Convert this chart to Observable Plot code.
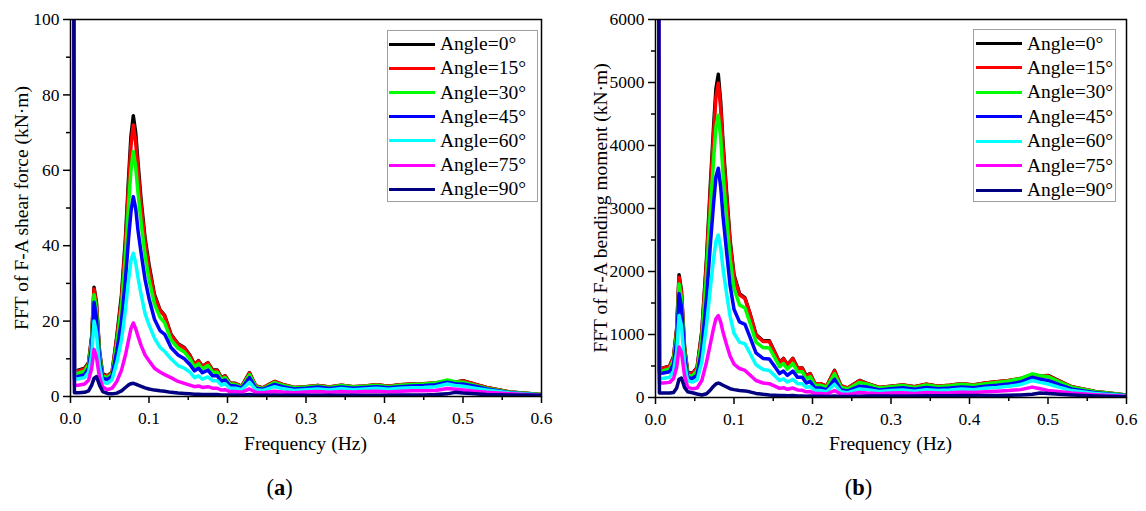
<!DOCTYPE html>
<html><head><meta charset="utf-8">
<script src="https://cdn.jsdelivr.net/npm/d3@7"></script>
<script src="https://cdn.jsdelivr.net/npm/@observablehq/plot@0.6"></script>
<style>
body{margin:0;background:#fff;}
#root{position:relative;width:1146px;height:511px;background:#fff;font-family:"Liberation Serif","Times New Roman",serif;color:#000;overflow:hidden}
#root svg{position:absolute;top:0}
.ytitle{position:absolute;white-space:nowrap;font-size:19.5px;line-height:1;transform:translate(-50%,-50%) rotate(-90deg)}
.xtitle{position:absolute;white-space:nowrap;font-size:19.5px;line-height:1;transform:translate(-50%,-50%)}
.tag{position:absolute;white-space:nowrap;font-size:22.5px;line-height:1;transform:translate(-50%,-50%)}
.legend{position:absolute;border:1px solid #a0a0a0;background:#fff;box-sizing:border-box}
.row{position:absolute;left:0;height:24px;display:flex;align-items:center;font-size:19.5px;white-space:nowrap;line-height:1}
.swatch{width:46px;height:3px}
</style>
</head><body><div id="root"></div>
<script>
// ---- data ----
const angles = ["Angle=0°","Angle=15°","Angle=30°","Angle=45°","Angle=60°","Angle=75°","Angle=90°"];
const colors = ["#000000","#ff0000","#00ff00","#0000ff","#00ffff","#ff00ff","#000080"];
const freq = [0.0035,0.005,0.010,0.018,0.023,0.027,0.030,0.033,0.037,0.041,0.047,0.053,0.059,0.065,0.070,0.074,0.077,0.080,0.083,0.086,0.090,0.095,0.100,0.107,0.114,0.120,0.128,0.137,0.145,0.152,0.158,0.163,0.168,0.175,0.181,0.187,0.192,0.197,0.203,0.210,0.218,0.228,0.236,0.245,0.260,
  0.270,0.285,0.300,0.315,0.330,0.345,0.360,0.375,0.390,0.405,0.420,0.435,0.450,0.465,0.480,0.490,0.500,0.515,0.530,0.560,0.600];
const xTicks = [0,0.1,0.2,0.3,0.4,0.5,0.6];
const xMinor = [0.05,0.15,0.25,0.35,0.45,0.55];

// (a) shear force, kN·m
const shear0  = [200,6.5,7,7.5,9,16,29,25,12,6,5.5,6.5,16,27,42,58,69,74.5,70,62,52,42,35,27,23,21.5,16.5,14,13,11,8.5,9.5,8,9,7,7,5,5.5,3.6,3.5,2.7,6.3,2.8,2.3,4,
  3.2,2.4,2.6,2.9,2.5,3.0,2.6,2.8,3.1,2.7,3.1,3.3,3.4,3.6,4.1,3.8,4.2,3.3,2.4,1.2,0.5];
const shear15 = [200,6.3,6.8,7.3,8.8,15.5,28.5,24.5,11.5,5.8,5.4,6.4,15.5,26,40.5,56,66.5,72,67.5,60,50.5,41,34,26.5,22.8,21.3,16.3,13.8,12.8,10.8,8.4,9.4,7.9,8.9,6.9,6.9,4.9,5.4,3.5,3.4,2.7,6.2,2.8,2.3,4,
  3.2,2.4,2.6,2.9,2.5,3.0,2.6,2.8,3.1,2.7,3.1,3.3,3.4,3.6,4.1,3.8,4.1,3.3,2.4,1.2,0.5];
const shear30 = [200,5.8,6.2,6.7,8.5,14.5,27,23,11,5.4,5,6,14,24,37,51,60,65,61,54,46,37.5,31,24.5,21,19.5,15,12.8,11.8,10,7.8,8.7,7.3,8.2,6.4,6.4,4.6,5,3.3,3.2,2.5,5.8,2.6,2.1,3.7,
  3.0,2.3,2.5,2.8,2.4,2.9,2.5,2.7,3.0,2.6,3.0,3.2,3.3,3.6,4.4,3.9,3.8,3.0,2.2,1.1,0.5];
const shear45 = [200,5,5.3,5.8,7.5,13,25,21,10,4.8,4.5,5.5,12,20,31,42,49,53,50,44,38,31,26,20.5,17.5,16.5,13,11,10,8.5,6.8,7.5,6.3,7,5.5,5.5,4,4.4,2.9,2.8,2.2,5,2.2,1.9,3.2,
  2.6,2.0,2.2,2.5,2.1,2.5,2.2,2.4,2.6,2.3,2.6,2.8,2.9,3.1,3.8,3.4,3.3,2.7,2.0,1.0,0.4];
const shear60 = [200,4.5,4.7,5,6.5,11,20,17,8,3.8,3.5,4.5,9,15,23,31,36,38,35.5,31.5,27,22,19,15.5,13,12,10,8.2,7.5,6.5,5,5.5,4.6,5.2,4.2,4.2,3,3.4,2.2,2.2,1.8,3.8,1.8,1.6,2.6,
  2.1,1.6,1.8,2.0,1.7,2.1,1.8,2.0,2.2,1.9,2.2,2.3,2.4,2.6,3.3,2.9,2.7,2.2,1.7,0.9,0.4];
const shear75 = [200,3,3,3.3,4.3,7.5,12.5,10.5,5,2.5,1.8,2.2,4,7,11,15,18,19.5,18,16,13.5,11,9.5,7.5,6.5,5.8,5,4,3.5,3,2.6,2.8,2.4,2.6,2.2,2.2,1.7,1.8,1.3,1.3,1.1,2,1.1,1,1.4,
  1.2,1.0,1.2,1.3,1.1,1.3,1.2,1.3,1.4,1.2,1.4,1.5,1.5,1.6,2.1,1.9,1.7,1.4,1.1,0.7,0.3];
const shear90 = [200,1,1,1.1,1.5,3,4.8,5.3,3,1.3,0.8,0.7,0.9,1.5,2.4,3.1,3.4,3.5,3.3,3,2.7,2.3,2,1.7,1.5,1.4,1.1,0.9,0.8,0.7,0.6,0.6,0.5,0.5,0.5,0.5,0.4,0.4,0.4,0.4,0.35,0.5,0.35,0.3,0.4,
  0.35,0.35,0.35,0.35,0.35,0.35,0.35,0.35,0.35,0.35,0.4,0.4,0.4,0.5,0.7,1.1,0.9,0.7,0.5,0.4,0.3];
const yTicksA = [0,20,40,60,80,100];
const yMinorA = [10,30,50,70,90];

// (b) bending moment, kN·m
const bend0  = [12000,450,470,500,650,1100,1950,1700,800,400,380,480,1050,2200,3400,4300,4900,5130,4700,4050,3350,2500,1950,1650,1580,1350,1000,900,900,720,560,620,520,620,470,470,340,380,220,220,180,430,190,150,270,
  220,160,180,200,170,210,180,195,220,200,230,250,270,300,360,340,350,260,170,95,40];
const bend15 = [12000,445,465,495,640,1070,1910,1670,790,395,375,470,1020,2140,3300,4180,4770,4990,4600,3970,3280,2450,1920,1630,1570,1340,990,890,890,710,555,615,515,615,465,465,335,375,220,220,178,425,188,150,268,
  220,160,180,200,170,210,180,195,220,200,230,250,270,300,362,340,345,255,172,96,40];
const bend30 = [12000,410,425,455,600,1000,1800,1580,740,360,340,430,930,1950,3000,3780,4300,4480,4130,3560,2950,2200,1730,1470,1420,1200,880,790,790,630,490,540,450,540,410,410,295,330,195,195,160,375,165,135,240,
  210,150,170,190,160,200,170,185,210,190,220,240,262,300,375,345,330,245,165,90,38];
const bend45 = [12000,380,390,410,530,900,1650,1450,680,320,300,360,760,1580,2450,3080,3500,3640,3350,2880,2380,1780,1400,1200,1160,970,710,620,610,490,380,420,350,420,320,320,230,255,150,150,120,290,125,100,180,
  165,120,140,155,130,160,140,150,165,155,180,195,215,245,320,290,270,200,135,75,30];
const bend60 = [12000,300,305,320,420,720,1300,1150,540,260,245,280,560,1150,1750,2200,2480,2580,2380,2050,1700,1290,1020,880,850,710,520,445,430,345,270,295,245,290,220,220,160,175,110,110,90,210,92,75,135,
  125,95,110,120,100,125,110,120,135,125,145,160,180,205,270,240,215,160,110,65,28];
const bend75 = [12000,230,230,240,300,480,800,720,350,160,140,150,270,560,860,1100,1250,1300,1200,1040,860,660,530,460,430,360,270,230,220,180,145,155,130,150,120,115,90,95,65,65,55,110,55,48,80,
  70,60,70,75,65,78,70,75,85,78,90,100,110,125,165,140,110,90,70,45,20];
const bend90 = [12000,70,70,70,80,150,290,310,160,90,75,55,40,60,120,180,215,230,215,195,170,140,125,110,105,90,65,50,40,35,30,32,28,30,25,25,20,22,18,18,15,22,15,14,18,
  22,22,25,25,25,27,27,28,30,30,30,32,35,40,50,70,65,50,40,25,10];
const yTicksB = [0,1000,2000,3000,4000,5000,6000];
const yMinorB = [500,1500,2500,3500,4500,5500];

// ---- drawing ----
const root = document.getElementById("root");
const FONT = '"Liberation Serif","Times New Roman",serif';

function panel(cfg) {
  const lineMarks = cfg.series.map((s, i) =>
    Plot.line(freq.map((f, j) => ({f, v: s[j]})), {x: "f", y: "v", stroke: colors[i], strokeWidth: 3.5, clip: true}));
  const svg = Plot.plot({
    width: cfg.width, height: 470,
    marginLeft: 70, marginRight: cfg.marginRight, marginTop: 19, marginBottom: cfg.marginBottom,
    style: {fontFamily: FONT, fontSize: "17.5px", color: "#000", background: "transparent", overflow: "visible"},
    x: {domain: [0, 0.6]},
    y: {domain: cfg.yDomain},
    marks: [
      ...lineMarks,
      Plot.frame({stroke: "#000", strokeWidth: 1.5}),
      Plot.axisX({ticks: xTicks, tickFormat: d3.format(".1f"), tickSize: 7, tickPadding: 8, strokeWidth: 1.5, fontSize: 17.5, label: null}),
      Plot.axisX({ticks: xMinor, tickFormat: () => "", tickSize: 4, strokeWidth: 1.5, label: null}),
      Plot.axisY({ticks: cfg.yTicks, tickFormat: d3.format("d"), tickSize: 7, tickPadding: 4, strokeWidth: 1.5, fontSize: 17.5, label: null}),
      Plot.axisY({ticks: cfg.yMinor, tickFormat: () => "", tickSize: 4, strokeWidth: 1.5, label: null})
    ]
  });
  svg.style.left = cfg.left + "px";
  root.appendChild(svg);

  const yt = document.createElement("div");
  yt.className = "ytitle"; yt.textContent = cfg.yTitle;
  yt.style.left = cfg.yTitleX + "px"; yt.style.top = "208px";
  root.appendChild(yt);

  const xt = document.createElement("div");
  xt.className = "xtitle"; xt.textContent = "Frequency (Hz)";
  xt.style.left = (cfg.left + 70 + 235.5) + "px"; xt.style.top = "443.5px";
  root.appendChild(xt);

  const tag = document.createElement("div");
  tag.className = "tag"; tag.innerHTML = "(<b>" + cfg.tag + "</b>)";
  tag.style.left = cfg.tagX + "px"; tag.style.top = "488px";
  root.appendChild(tag);

  const lg = document.createElement("div");
  lg.className = "legend";
  Object.assign(lg.style, {left: cfg.lg.left + "px", top: cfg.lg.top + "px", width: cfg.lg.w + "px", height: cfg.lg.h + "px"});
  angles.forEach((name, i) => {
    const row = document.createElement("div");
    row.className = "row";
    row.style.top = (cfg.lg.rowTop + cfg.lg.step * i) + "px";
    const sw = document.createElement("span");
    sw.className = "swatch"; sw.style.background = colors[i];
    sw.style.marginLeft = cfg.lg.pad + "px"; sw.style.marginRight = "5px";
    const tx = document.createElement("span"); tx.textContent = name;
    row.appendChild(sw); row.appendChild(tx);
    lg.appendChild(row);
  });
  root.appendChild(lg);
}

panel({
  series: [shear0, shear15, shear30, shear45, shear60, shear75, shear90],
  yDomain: [0, 100], yTicks: yTicksA, yMinor: yMinorA,
  left: 0, width: 573, marginRight: 32, marginBottom: 74,
  yTitle: "FFT of F-A shear force (kN·m)", yTitleX: 22,
  tag: "a", tagX: 279.5,
  lg: {left: 387, top: 30, w: 151, h: 172, rowTop: 1, step: 24.2, pad: 1}
});
panel({
  series: [bend0, bend15, bend30, bend45, bend60, bend75, bend90],
  yDomain: [0, 6000], yTicks: yTicksB, yMinor: yMinorB,
  left: 585, width: 561, marginRight: 20, marginBottom: 73,
  yTitle: "FFT of F-A bending moment (kN·m)", yTitleX: 600.5,
  tag: "b", tagX: 858.5,
  lg: {left: 973, top: 29, w: 143, h: 173, rowTop: 1.3, step: 24.45, pad: 2}
});
</script></body></html>
